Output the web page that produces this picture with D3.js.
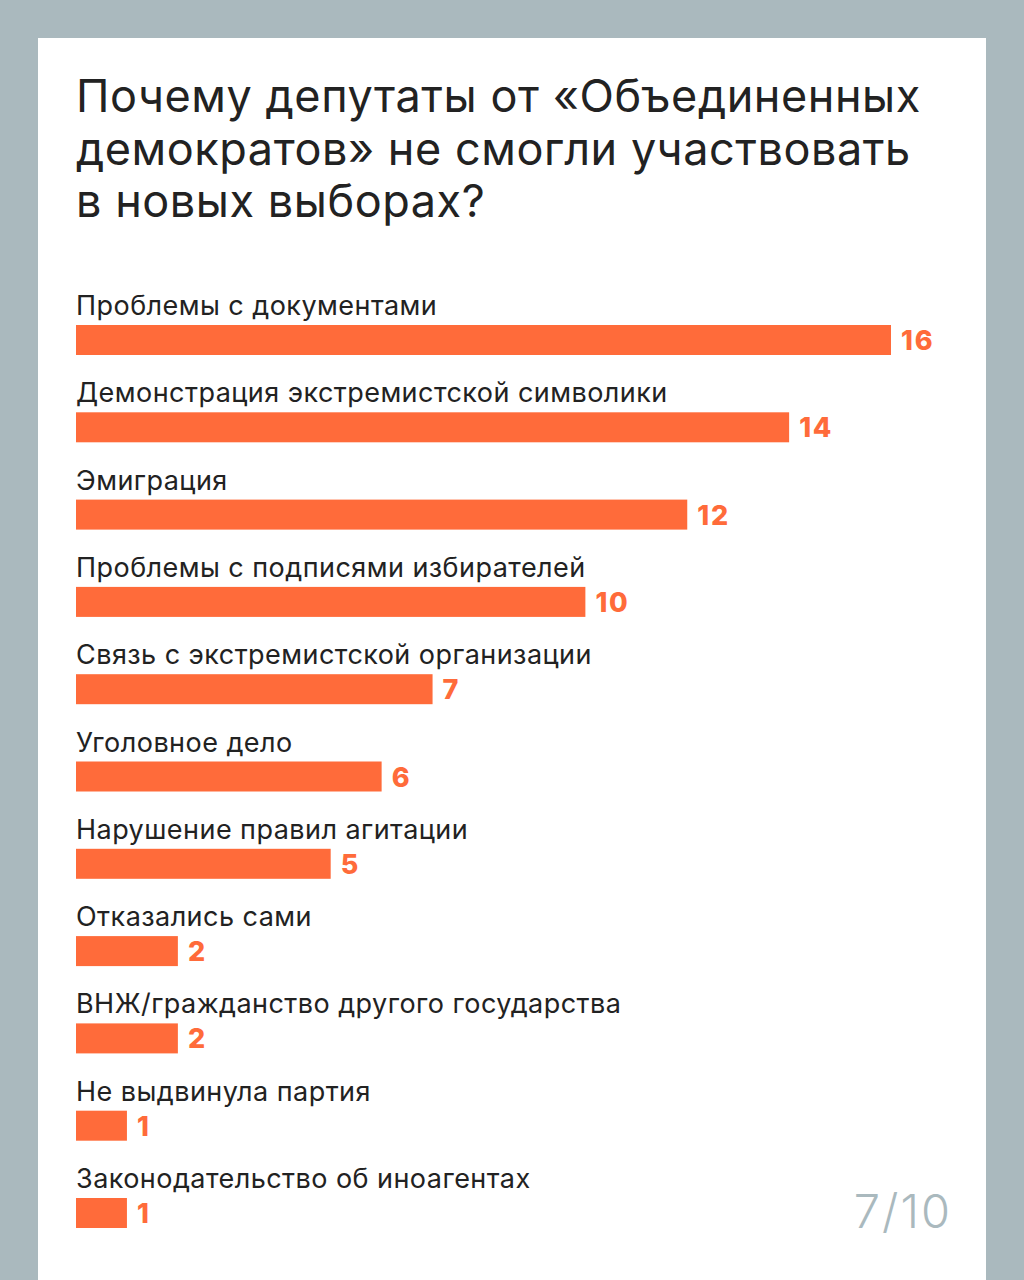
<!DOCTYPE html>
<html><head><meta charset="utf-8">
<script src="https://cdn.jsdelivr.net/npm/d3@7"></script>
<style>body{margin:0;background:#aab9be;}</style>
</head><body>
<svg id="chart" width="1024" height="1280"></svg>
<script>
const categories = ['Проблемы с документами', 'Демонстрация экстремистской символики', 'Эмиграция',
  'Проблемы с подписями избирателей', 'Связь с экстремистской организации', 'Уголовное дело',
  'Нарушение правил агитации', 'Отказались сами', 'ВНЖ/гражданство другого государства',
  'Не выдвинула партия', 'Законодательство об иноагентах'];
const values = [16, 14, 12, 10, 7, 6, 5, 2, 2, 1, 1];
const titleLines = ['Почему депутаты от «Объединенных', 'демократов» не смогли участвовать', 'в новых выборах?'];

const svg = d3.select('#chart');
const font = 'Inter, "Noto Sans", sans-serif';
const orange = '#ff6b3a';

svg.append('rect').attr('x', 38).attr('y', 38).attr('width', 948).attr('height', 1250).attr('fill', '#fff');

svg.selectAll('text.title').data(titleLines).enter().append('text')
  .attr('class', 'title').attr('x', 76).attr('y', (d, i) => 112 + i * 52.5)
  .attr('font-family', font).attr('font-size', 45).attr('letter-spacing', 0.55).attr('fill', '#222')
  .text(d => d);

const x = d3.scaleLinear().domain([0, 16]).range([76, 891]);
const y = d3.scaleBand().domain(categories).range([325, 325 + 87.3 * 11]).paddingInner(0);

const row = svg.selectAll('g.row').data(categories).enter().append('g')
  .attr('transform', d => 'translate(0,' + y(d) + ')');

row.append('text').attr('x', 76).attr('y', -10)
  .attr('font-family', font).attr('font-size', 27).attr('letter-spacing', 0.45).attr('fill', '#222')
  .text(d => d);

row.append('rect').attr('x', x(0)).attr('y', 0).attr('height', 30)
  .attr('width', (d, i) => x(values[i]) - x(0)).attr('fill', orange);

row.append('text').attr('x', (d, i) => x(values[i]) + 10).attr('y', 25)
  .attr('font-family', font).attr('font-size', 27).attr('font-weight', 800).attr('letter-spacing', 1.8).attr('fill', orange)
  .text((d, i) => values[i]);

svg.append('text').attr('x', 952).attr('y', 1228).attr('text-anchor', 'end')
  .attr('font-family', font).attr('font-size', 47).attr('font-weight', 300).attr('letter-spacing', 2).attr('fill', '#aab9be')
  .text('7/10');
</script>
</body></html>
